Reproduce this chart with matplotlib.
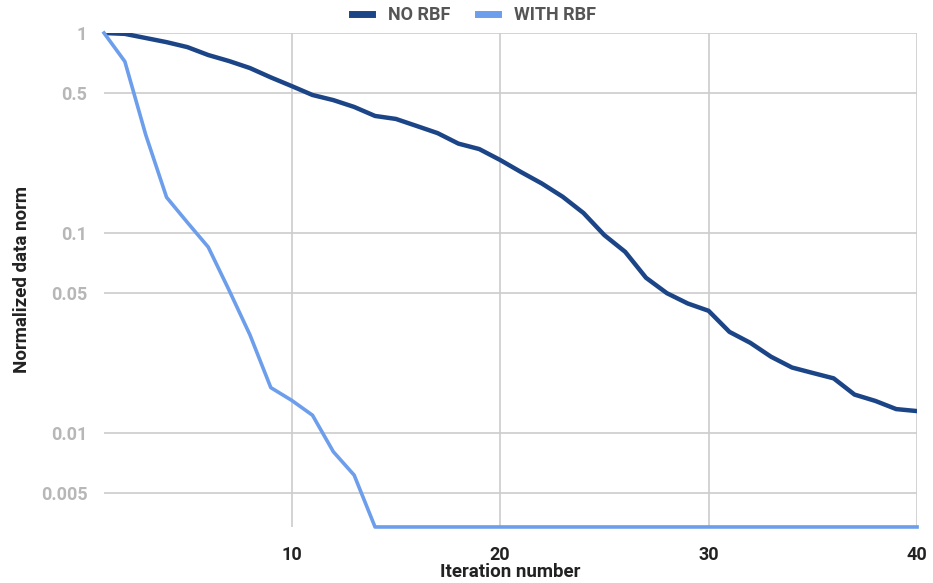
import numpy as np
import matplotlib
matplotlib.use("Agg")
import matplotlib.pyplot as plt
from matplotlib.ticker import FixedLocator, NullLocator

plt.rcParams['font.family'] = ['Roboto', 'DejaVu Sans']

iterations = list(range(1, 41))
no_rbf = [1.0, 0.99, 0.944, 0.90, 0.85, 0.776, 0.724, 0.668, 0.60, 0.543,
          0.49, 0.462, 0.427, 0.385, 0.372, 0.343, 0.316, 0.28, 0.263, 0.232,
          0.202, 0.177, 0.152, 0.126, 0.0977, 0.0806, 0.0598, 0.0501, 0.0445, 0.0409,
          0.0321, 0.0283, 0.0241, 0.0213, 0.0200, 0.0188, 0.0156, 0.0145, 0.0132, 0.0129]
with_rbf = [1.0, 0.72, 0.31, 0.151, 0.113, 0.0851, 0.0518, 0.031, 0.0169, 0.0146,
            0.0123, 0.00808, 0.00617] + [0.0034] * 27

y_ticks = [1, 0.5, 0.1, 0.05, 0.01, 0.005]
y_tick_labels = ["1", "0.5", "0.1", "0.05", "0.01", "0.005"]
x_ticks = [10, 20, 30, 40]

fig = plt.figure(figsize=(9.33, 5.83), dpi=100)
ax = fig.add_axes([0.1115, 0.0961, 0.8714, 0.8473])

ax.plot(iterations, no_rbf, color="#1c4587", lw=3.2, label="NO RBF",
        solid_joinstyle="round", zorder=3)
ax.plot(iterations, with_rbf, color="#6d9eeb", lw=2.6, label="WITH RBF",
        solid_joinstyle="round", zorder=4, clip_on=False)

ax.set_yscale("log")
ax.set_xlim(1, 40)
ax.set_ylim(0.0034, 1)

ax.yaxis.set_major_locator(FixedLocator(y_ticks))
ax.yaxis.set_minor_locator(NullLocator())
ax.set_yticklabels(y_tick_labels)
ax.set_xticks(x_ticks)
ax.xaxis.set_minor_locator(NullLocator())

ax.grid(True, color="#cccccc", lw=1.2)
ax.set_axisbelow(True)
for s in ax.spines.values():
    s.set_visible(False)
ax.tick_params(length=0)
ax.tick_params(axis="y", colors="#b7b7b7", labelsize=13, pad=12)
ax.tick_params(axis="x", colors="#222222", labelsize=13, pad=14)
for lbl in ax.get_yticklabels() + ax.get_xticklabels():
    lbl.set_fontweight("bold")

ax.set_xlabel("Iteration number", fontsize=13.5, fontweight="bold", color="#222222", labelpad=-1)
ax.set_ylabel("Normalized data norm", fontsize=13.5, fontweight="bold", color="#222222", labelpad=7)

leg = ax.legend(loc="lower center", bbox_to_anchor=(0.455, 0.985), ncol=2, frameon=False,
                handlelength=1.1, handleheight=0.5, columnspacing=1.5, handletextpad=0.9,
                prop={"size": 13, "weight": "bold"})
for t in leg.get_texts():
    t.set_color("#555555")
for h in leg.get_lines():
    h.set_linewidth(5)

fig.savefig("out.png", dpi=100)
